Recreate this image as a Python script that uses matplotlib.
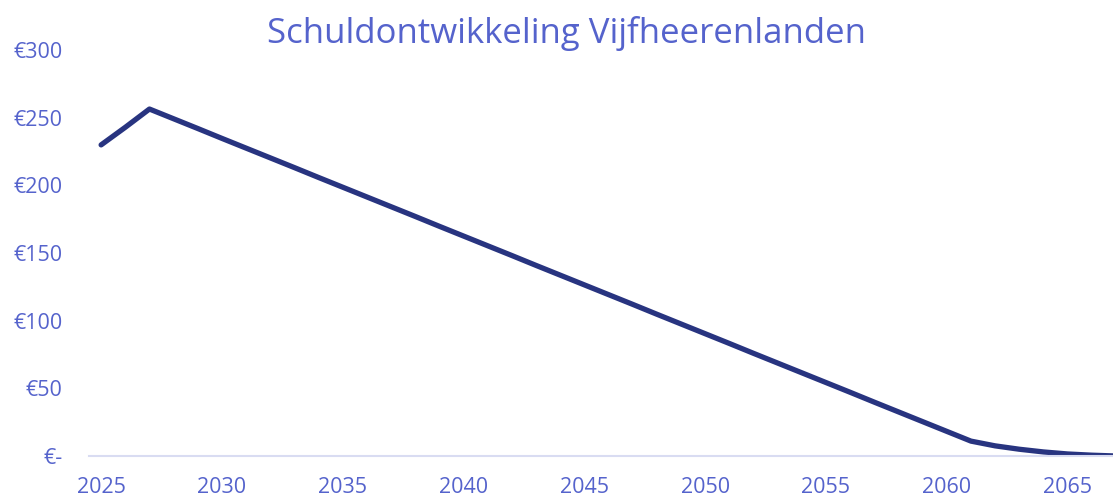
import matplotlib
matplotlib.use("Agg")
import matplotlib.pyplot as plt

years = list(range(2025, 2068))
schuld = [230.0, 243.0, 256.5, 249.3, 242.1, 234.8, 227.6, 220.4, 213.2, 205.9,
          198.7, 191.5, 184.3, 177.1, 169.8, 162.6, 155.4, 148.2, 140.9, 133.7,
          126.5, 119.3, 112.1, 104.8, 97.6, 90.4, 83.2, 75.9, 68.7, 61.5,
          54.3, 47.1, 39.8, 32.6, 25.4, 18.2, 11.0, 7.5, 5.0, 3.0,
          1.5, 0.6, 0.0]
y_ticks = [0, 50, 100, 150, 200, 250, 300]
y_labels = ["€-", "€50", "€100", "€150", "€200", "€250", "€300"]
x_ticks = [2025, 2030, 2035, 2040, 2045, 2050, 2055, 2060, 2065]
title = "Schuldontwikkeling Vijfheerenlanden"

text_color = "#5563CC"
line_color = "#283480"
axis_color = "#D9DCF2"

plt.rcParams['font.family'] = ['Open Sans', 'DejaVu Sans']

fig = plt.figure(figsize=(11.13, 4.97), dpi=100)
ax = fig.add_axes([0.08, 0.0825, 0.9335, 0.8165])
ax.plot(years, schuld, color=line_color, linewidth=3.8, solid_capstyle='round', solid_joinstyle='round')
ax.set_xlim(2024.5, 2067.5)
ax.set_ylim(0, 300)
ax.set_yticks(y_ticks)
ax.set_yticklabels(y_labels)
ax.set_xticks(x_ticks)
for s in ['top', 'right', 'left']:
    ax.spines[s].set_visible(False)
ax.spines['bottom'].set_color(axis_color)
ax.spines['bottom'].set_linewidth(1.5)
ax.tick_params(axis='both', length=0, labelcolor=text_color, labelsize=15.5)
ax.tick_params(axis='y', pad=19)
ax.tick_params(axis='x', pad=15)
ax.patch.set_visible(False)
fig.text(0.509, 0.932, title, ha='center', va='center', color=text_color, fontsize=25)
fig.savefig("out.png", dpi=100)
